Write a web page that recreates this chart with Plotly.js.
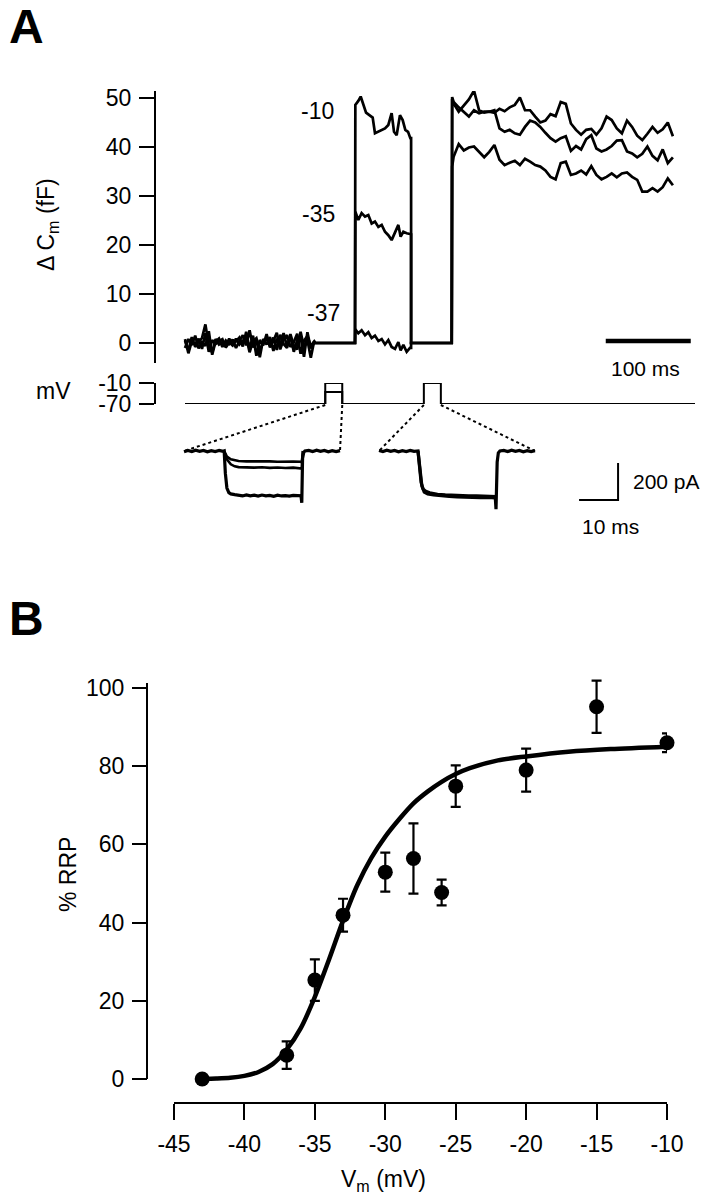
<!DOCTYPE html>
<html>
<head>
<meta charset="utf-8">
<script src="https://cdn.plot.ly/plotly-3.0.1.min.js"></script>
<style>html,body{margin:0;padding:0;background:#fff;}#chart{width:706px;height:1200px;}</style>
</head>
<body>
<div id="chart"></div>
<script>
// ---------------- Panel A: capacitance traces (time in ms, ΔCm in fF) ----------------
const baseT = [0,4,8,12,16,20,24,28,32,36,40,44,48,52,56,60,64,68,72,76,80,84,88,92,96,100,104,108,112,116,120,124,128,132,136,140,144,148,152];
const base10 = [0.5,-1.5,1.2,-0.8,0.3,1.0,3.8,-0.5,-2.0,0.8,-0.3,0.2,-0.6,0.9,-0.4,0.3,1.1,-0.7,2.3,-1.2,1.5,-2.6,0.6,-0.5,1.8,-0.9,0.4,2.1,-1.3,0.7,1.6,-0.8,0.2,1.9,-2.2,0.5,1.4,-0.6,0.3];
const base35 = [-1.0,0.8,-0.4,1.5,-1.1,0.2,-0.6,2.4,-2.4,0.3,0.9,-0.8,0.5,-0.2,0.7,-1.0,0.4,1.6,-0.5,2.6,-0.9,0.6,-2.9,0.8,-0.3,1.2,-1.6,0.9,-0.4,2.0,-0.7,1.3,-1.8,0.6,1.1,-2.8,2.2,-1.1,0.1];
const base37 = [0.8,-2.1,0.4,-0.3,0.9,-1.2,2.0,-1.8,0.6,-0.2,0.4,0.8,-0.9,0.1,-0.5,0.9,-0.3,0.5,1.2,-1.9,0.4,1.0,-1.5,0.2,0.9,-0.6,1.1,-1.4,1.7,-0.2,-1.0,1.8,-0.5,-1.3,2.3,-0.9,0.6,-3.0,0.4];

const step10T = [200.4,203.9,206.7,209.8,213.0,216.9,220.8,223.5,227.5,231.4,235.3,239.2,243.1,245.9,249.0,252.9,256.1,259.2,262.4,265.1];
const step10V = [48.6,49.4,50.3,48.4,47.0,46.5,46.0,42.8,43.1,43.5,43.8,44.5,46.9,43.1,42.4,46.5,45.5,43.5,43.1,41.8];
const stepLowT = [200.4,203.9,207.8,211.8,215.7,219.6,223.5,227.5,231.4,235.3,239.2,243.1,247.1,251.0,253.7,256.9,260.8,264.7];
const step35V = [26.8,25.1,26.5,25.8,26.1,24.4,24.8,23.7,24.1,22.7,22.0,21.0,22.4,24.1,21.7,22.7,22.4,22.2];
const step37V = [2.8,2.0,2.6,1.6,2.2,1.0,1.5,0.4,0.8,-0.3,0.6,-0.8,-1.2,0.2,-1.5,-0.4,-1.8,-1.0];

const postT = [316,322,328,334,340,346,352,358,364,370,376,382,388,394,400,406,412,418,424,430,436,442,448,454,460,466,472,478,484,490,496,502,508,514,520,526,532,538,544,550,556,562,568,574];
const post10 = [48.9,47.2,48.4,49.7,51.5,47.5,47.0,47.2,47.0,47.8,47.3,48.1,48.6,50.1,47.5,47.5,46.2,45.0,45.4,46.7,46.3,49.2,48.8,44.8,43.5,42.5,43.5,43.7,42.5,43.8,46.2,45.5,43.8,42.8,45.4,44.1,42.3,41.4,42.7,44.1,42.9,43.6,45.0,42.2];
const post35 = [49.2,48.1,47.1,46.2,47.5,46.9,47.2,47.2,47.5,43.8,43.1,43.5,42.8,42.5,44.1,45.4,45.0,44.1,42.9,41.8,41.1,41.8,42.2,39.2,40.2,39.5,41.6,42.4,39.7,39.1,39.5,40.2,41.3,41.4,39.1,38.7,37.9,38.6,40.1,38.2,37.3,39.5,36.7,37.9];
const post37 = [38.0,40.6,39.3,39.9,40.1,39.0,37.9,39.0,40.4,37.4,36.3,36.8,37.2,36.3,37.6,37.0,36.3,36.0,35.2,33.9,33.4,36.7,37.0,34.3,34.6,35.2,34.4,36.1,34.3,33.4,33.9,34.6,33.8,34.6,34.8,33.9,33.3,30.9,30.9,31.6,30.9,31.8,33.6,32.2];
const postStart = [49.8, 50.2, 36.0];           // first sample right after the 2nd blanking
const blankTimes = [153, 200, 266, 313.8, 314.3]; // noise end, step on, step off, step on, first sample
const traceLabels = ['-10', '-35', '-37'];
const scale100msT = [495, 595];
const scale100msV = [0.4, 0.4];

// ---------------- Voltage protocol (mV) ----------------
const vProtT = [0,165,165,185,185,281,281,301,301,600];
const vProtV = [-70,-70,-10,-10,-70,-70,-10,-10,-70,-70];
const vInnerT = [165,165,185,185];
const vInnerV = [-70,-36,-36,-70];

// ---------------- Ca currents (ms, pA) ----------------
const curL1T = [0,1,2,3,4,5,6,7,8,9,10,10.3,10.6,11,11.5,12,13,14,15,16,17,18,19,20,21,22,23,24,25,26,27,28,29,30,30.2,30.4,30.7,31,32,33,34,35,36,37,38,39,40];
const curL1V = [-4,3,-3,4,-2,3,-4,2,-3,3,-2,0,-120,-200,-225,-232,-236,-238,-243,-237,-242,-239,-244,-238,-242,-240,-245,-239,-243,-241,-244,-240,-243,-242,-280,-40,-8,0,3,-3,4,-2,3,-4,2,-3,2];
const curL2T = [10.3,11,12,13,14,16,18,20,22,24,26,28,30,30.2,30.5];
const curL2V = [0,-30,-45,-51,-54,-56,-55,-57,-56,-58,-56,-57,-58,-62,0];
const curL3V = [0,-45,-72,-83,-87,-89,-90,-88,-91,-89,-92,-90,-91,-95,0];
const curR1T = [50,51,52,53,54,55,56,57,58,59,60,60.4,60.8,61.3,62,63,64,65,67,69,71,73,75,77,79,79.8,80,80.3,80.6,81,82,83,84,85,86,87,88,89,90];
const curR1V = [3,-3,4,-2,3,-4,2,-3,3,-2,0,-90,-170,-205,-218,-226,-231,-234,-237,-240,-241,-243,-242,-245,-244,-246,-315,-60,-10,0,3,-3,4,-2,3,-4,2,-3,2];
const curR2T = [60,60.5,61,61.6,62.5,64,66,68,70,72,74,76,78,79.8];
const curR2V = [0,-110,-190,-222,-232,-238,-243,-246,-248,-250,-249,-252,-251,-253];
const scaleCurT = [101.3,111.3,111.3];
const scaleCurV = [-265,-265,-65];
const groupStart = [0, 50];
const groupEnd = [40, 90];

// ---------------- Panel B ----------------
const vm = [-43,-37,-35,-33,-30,-28,-26,-25,-20,-15,-10];
const rrp = [0,6.1,25.3,41.9,52.9,56.4,47.7,74.9,79.0,95.2,86.0];
const rrpErr = [0,3.5,5.3,4.2,5.0,9.0,3.3,5.3,5.5,6.7,2.4];
const fitV = [-43,-42,-41,-40,-39,-38,-37,-36,-35,-34,-33,-32,-31,-30,-29,-28,-27,-26,-25,-24,-22,-20,-17,-14,-10];
const fitY = [0,0.1,0.3,0.8,1.8,3.8,7.5,13,21,30.5,40.5,49.5,56.5,62,66.5,70.5,73.5,76,78,79.5,81.5,82.5,83.7,84.4,85];
const xTicksB = [-45,-40,-35,-30,-25,-20,-15,-10];
const yTicksB = [0,20,40,60,80,100];
const yTicksA = [0,10,20,30,40,50];

// ---------------- layout geometry (pixels) ----------------
const W = 706, H = 1200;
const FONT = 'Liberation Sans, Arial, Helvetica, sans-serif';
const FS = 23;
const px = x => x / W;
const py = y => 1 - y / H;

// time axis of panel A: px = 185 + 0.85*t
const aX0 = 185, aK = 0.85;
const aRange = [(156 - aX0) / aK, (W - aX0) / aK];
// current axis: px = 184 + 3.9*t ; py = 451 - 0.185*I
const cX0 = 184, cK = 3.9, cY0 = 451, cKy = 0.185;
const cRange = [(170 - cX0) / cK, (W - cX0) / cK];
const cYRange = [(cY0 - 530) / cKy, (cY0 - 430) / cKy];
const vBaseY = 404;

const traces = [];
const lineStyle = {color: 'black', width: 2.7};
[[base10, step10T, step10V, post10], [base35, stepLowT, step35V, post35], [base37, stepLowT, step37V, post37]].forEach((s, i) => {
  const x = baseT.concat([blankTimes[0], blankTimes[1]], s[1], [blankTimes[2], blankTimes[2], blankTimes[3], blankTimes[4]], postT);
  const y = s[0].concat([0, 0], s[2], [s[2][s[2].length - 1], 0, 0, postStart[i]], s[3]);
  traces.push({x, y, xaxis: 'x', yaxis: 'y', mode: 'lines', line: lineStyle, hoverinfo: 'skip', name: traceLabels[i]});
});
traces.push({x: scale100msT, y: scale100msV, xaxis: 'x', yaxis: 'y', mode: 'lines', line: {color: 'black', width: 4.5}, hoverinfo: 'skip'});

traces.push({x: vProtT, y: vProtV, xaxis: 'x2', yaxis: 'y2', mode: 'lines', line: {color: 'black', width: 2}, hoverinfo: 'skip'});
traces.push({x: vInnerT, y: vInnerV, xaxis: 'x2', yaxis: 'y2', mode: 'lines', line: {color: 'black', width: 2}, hoverinfo: 'skip'});

const curStyle = {color: 'black', width: 3.2};
traces.push({x: curL2T, y: curL2V, xaxis: 'x3', yaxis: 'y3', mode: 'lines', line: {color: 'black', width: 2.6}, hoverinfo: 'skip'});
traces.push({x: curL2T, y: curL3V, xaxis: 'x3', yaxis: 'y3', mode: 'lines', line: {color: 'black', width: 2.6}, hoverinfo: 'skip'});
traces.push({x: curL1T, y: curL1V, xaxis: 'x3', yaxis: 'y3', mode: 'lines', line: curStyle, hoverinfo: 'skip'});
traces.push({x: curR1T, y: curR1V, xaxis: 'x3', yaxis: 'y3', mode: 'lines', line: curStyle, hoverinfo: 'skip'});
traces.push({x: curR2T, y: curR2V, xaxis: 'x3', yaxis: 'y3', mode: 'lines', line: curStyle, hoverinfo: 'skip'});
traces.push({x: scaleCurT, y: scaleCurV, xaxis: 'x3', yaxis: 'y3', mode: 'lines', line: {color: 'black', width: 2}, hoverinfo: 'skip'});

traces.push({x: fitV, y: fitY, xaxis: 'x4', yaxis: 'y4', mode: 'lines', line: {color: 'black', width: 4.5, shape: 'spline', smoothing: 0.8}, hoverinfo: 'skip'});
traces.push({x: vm, y: rrp, xaxis: 'x4', yaxis: 'y4', mode: 'markers', cliponaxis: false,
  marker: {color: 'black', size: 15},
  error_y: {type: 'data', array: rrpErr, visible: true, color: 'black', thickness: 2.2, width: 5}, hoverinfo: 'skip'});

// dotted connector lines from pulses to current traces
const pulseOn = [vProtT[1], vProtT[5]];
const pulseOff = [vProtT[3], vProtT[7]];
const shapes = [];
for (let i = 0; i < 2; i++) {
  const pairs = [[aX0 + aK * pulseOn[i], cX0 + cK * groupStart[i]], [aX0 + aK * pulseOff[i], cX0 + cK * groupEnd[i]]];
  pairs.forEach(p => shapes.push({type: 'line', xref: 'paper', yref: 'paper', x0: px(p[0]), y0: py(vBaseY + 1), x1: px(p[1]), y1: py(cY0),
    line: {color: 'black', width: 2, dash: 'dot'}}));
}
const yB0 = 1079, yB100 = 688;
const kB = (yB0 - yB100) / 100;
const yBtop = (yB0 - 683) / kB;
shapes.push({type: 'line', xref: 'paper', yref: 'y4', x0: px(147), x1: px(147), y0: 0, y1: yBtop, line: {color: 'black', width: 2}});

const axStyle = {ticks: 'outside', ticklen: 15, tickwidth: 2, tickcolor: 'black', showline: true, linewidth: 2, linecolor: 'black',
  showgrid: false, zeroline: false, automargin: false, tickfont: {family: FONT, size: FS, color: 'black'}, ticklabelstandoff: 3, fixedrange: true};

const ann = (text, x, y, size, opts) => Object.assign({text, xref: 'paper', yref: 'paper', x: px(x), y: py(y), showarrow: false,
  font: {family: FONT, size, color: 'black'}, xanchor: 'center', yanchor: 'middle'}, opts || {});

const layout = {
  width: W, height: H, margin: {l: 0, r: 0, t: 0, b: 0, autoexpand: false}, paper_bgcolor: 'white', plot_bgcolor: 'rgba(0,0,0,0)',
  showlegend: false, font: {family: FONT, color: 'black'},
  xaxis: {domain: [px(156), 1], range: aRange, visible: false, anchor: 'y', fixedrange: true},
  yaxis: Object.assign({}, axStyle, {domain: [py(363), py(91)], range: [(343 - 363) / 4.9, (343 - 91) / 4.9], anchor: 'x',
    tickvals: yTicksA, ticktext: yTicksA.map(String)}),
  xaxis2: {domain: [px(156), 1], range: aRange, visible: false, anchor: 'y2', fixedrange: true},
  yaxis2: Object.assign({}, axStyle, {domain: [py(vBaseY), py(383)], range: [-70, -10], anchor: 'x2', tickvals: [-70, -10], ticktext: ['-70', '-10']}),
  xaxis3: {domain: [px(170), 1], range: cRange, visible: false, anchor: 'y3', fixedrange: true},
  yaxis3: {domain: [py(530), py(430)], range: cYRange, visible: false, anchor: 'x3', fixedrange: true},
  xaxis4: Object.assign({}, axStyle, {domain: [px(174), px(667)], range: [-45, -10], anchor: 'free', position: py(1103), ticklen: 16,
    tickvals: xTicksB, ticktext: xTicksB.map(String), tickangle: 0, ticklabelstandoff: 4}),
  yaxis4: Object.assign({}, axStyle, {domain: [py(1085), py(670)], range: [-(1085 - yB0) / kB, (yB0 - 670) / kB], anchor: 'free', position: px(147),
    showline: false, tickvals: yTicksB, ticktext: yTicksB.map(String)}),
  shapes,
  annotations: [
    ann('<b>A</b>', 7, 27, 48, {xanchor: 'left'}),
    ann('<b>B</b>', 7, 618, 48, {xanchor: 'left'}),
    ann('Δ C<sub>m</sub> (fF)', 47, 225, FS, {textangle: -90}),
    ann(traceLabels[0], 317, 111, FS),
    ann(traceLabels[1], 318, 214, FS),
    ann(traceLabels[2], 323, 313, FS),
    ann('100 ms', 645, 368, 21),
    ann('mV', 53, 391, FS),
    ann('200 pA', 631, 482, 21, {xanchor: 'left'}),
    ann('10 ms', 580, 526, 21, {xanchor: 'left'}),
    ann('% RRP', 68, 875, FS, {textangle: -90}),
    ann('V<sub>m</sub> (mV)', 383, 1180, FS)
  ]
};

Plotly.newPlot('chart', traces, layout, {staticPlot: true, displayModeBar: false});
</script>
</body>
</html>
